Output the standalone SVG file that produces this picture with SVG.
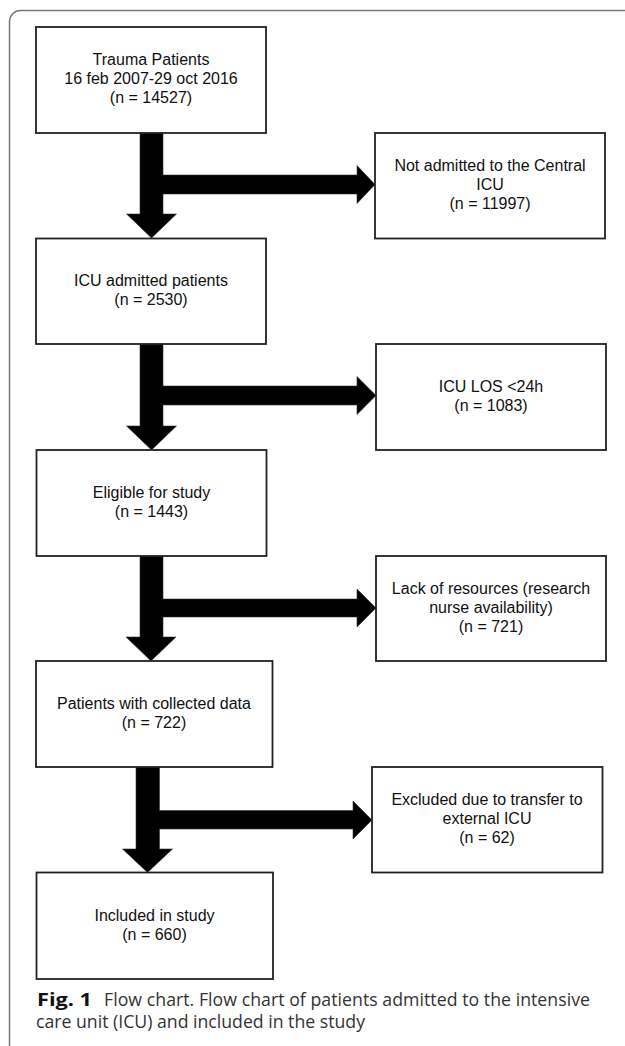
<svg xmlns="http://www.w3.org/2000/svg" width="625" height="1046" viewBox="0 0 625 1046">
<style>
.box{fill:#fff;stroke:#222;stroke-width:1.8}
.t{font-family:"Liberation Sans",Arial,sans-serif;font-size:16px;fill:#111;text-anchor:middle}
.arr{fill:#000;stroke:#333;stroke-width:0.6}
.cap{font-family:"Open Sans","Noto Sans",sans-serif;font-size:17.7px;fill:#333}
.capb{font-family:"Open Sans","Noto Sans",sans-serif;font-size:18.5px;font-weight:bold;fill:#111}
</style>
<rect width="625" height="1046" fill="#fff"/>
<rect x="9.5" y="10.5" width="700" height="1046" rx="11" fill="none" stroke="#777" stroke-width="1.5"/>
<g id="connectors">
<polygon class="arr" points="140,133 163,133 163,175 357,175 357,165.5 375,184.5 357,203.5 357,194 163,194 163,214 176.5,214 151.5,238 126.5,214 140,214"/>
<polygon class="arr" points="140,344 163,344 163,386 357,386 357,376.5 376,395.5 357,414.5 357,405 163,405 163,426 176.5,426 151.5,450 126.5,426 140,426"/>
<polygon class="arr" points="140,556 163,556 163,599 357,599 357,589 376,608 357,627 357,617 163,617 163,637 176,637 151,661 126,637 140,637"/>
<polygon class="arr" points="136,767 159.5,767 159.5,810.5 353,810.5 353,801 372,820 353,839 353,829 159.5,829 159.5,849 172.5,849 147.5,872.5 122.5,849 136,849"/>
</g>
<g id="n1"><rect class="box" x="36" y="27" width="230" height="106"/>
<text class="t" x="151" y="65">Trauma Patients</text><text class="t" x="151" y="84">16 feb 2007-29 oct 2016</text><text class="t" x="151" y="103">(n = 14527)</text></g>
<g id="r1"><rect class="box" x="375" y="133" width="230" height="105.5"/>
<text class="t" x="490" y="171">Not admitted to the Central</text><text class="t" x="490" y="190">ICU</text><text class="t" x="490" y="209">(n = 11997)</text></g>
<g id="n2"><rect class="box" x="36" y="238.5" width="230" height="105.5"/>
<text class="t" x="151" y="286">ICU admitted patients</text><text class="t" x="151" y="305">(n = 2530)</text></g>
<g id="r2"><rect class="box" x="376" y="344" width="230" height="106"/>
<text class="t" x="491" y="392">ICU LOS &lt;24h</text><text class="t" x="491" y="411">(n = 1083)</text></g>
<g id="n3"><rect class="box" x="36.5" y="450" width="230" height="106"/>
<text class="t" x="151.5" y="498">Eligible for study</text><text class="t" x="151.5" y="517">(n = 1443)</text></g>
<g id="r3"><rect class="box" x="376" y="556" width="230" height="105"/>
<text class="t" x="491" y="593.5">Lack of resources (research</text><text class="t" x="491" y="612.5">nurse availability)</text><text class="t" x="491" y="631.5">(n = 721)</text></g>
<g id="n4"><rect class="box" x="36" y="661" width="236.5" height="106"/>
<text class="t" x="154" y="709">Patients with collected data</text><text class="t" x="154" y="728">(n = 722)</text></g>
<g id="r4"><rect class="box" x="372" y="767" width="230.5" height="105.5"/>
<text class="t" x="487" y="805">Excluded due to transfer to</text><text class="t" x="487" y="824">external ICU</text><text class="t" x="487" y="843">(n = 62)</text></g>
<g id="n5"><rect class="box" x="36.5" y="872.5" width="236.5" height="106.5"/>
<text class="t" x="154.5" y="920.5">Included in study</text><text class="t" x="154.5" y="939.5">(n = 660)</text></g>
<g id="caption">
<text class="capb" x="37" y="1006" textLength="55" lengthAdjust="spacingAndGlyphs">Fig. 1</text>
<text class="cap" x="104" y="1006" textLength="486" lengthAdjust="spacing">Flow chart. Flow chart of patients admitted to the intensive</text>
<text class="cap" x="36" y="1028" textLength="329" lengthAdjust="spacing">care unit (ICU) and included in the study</text>
</g>
</svg>
